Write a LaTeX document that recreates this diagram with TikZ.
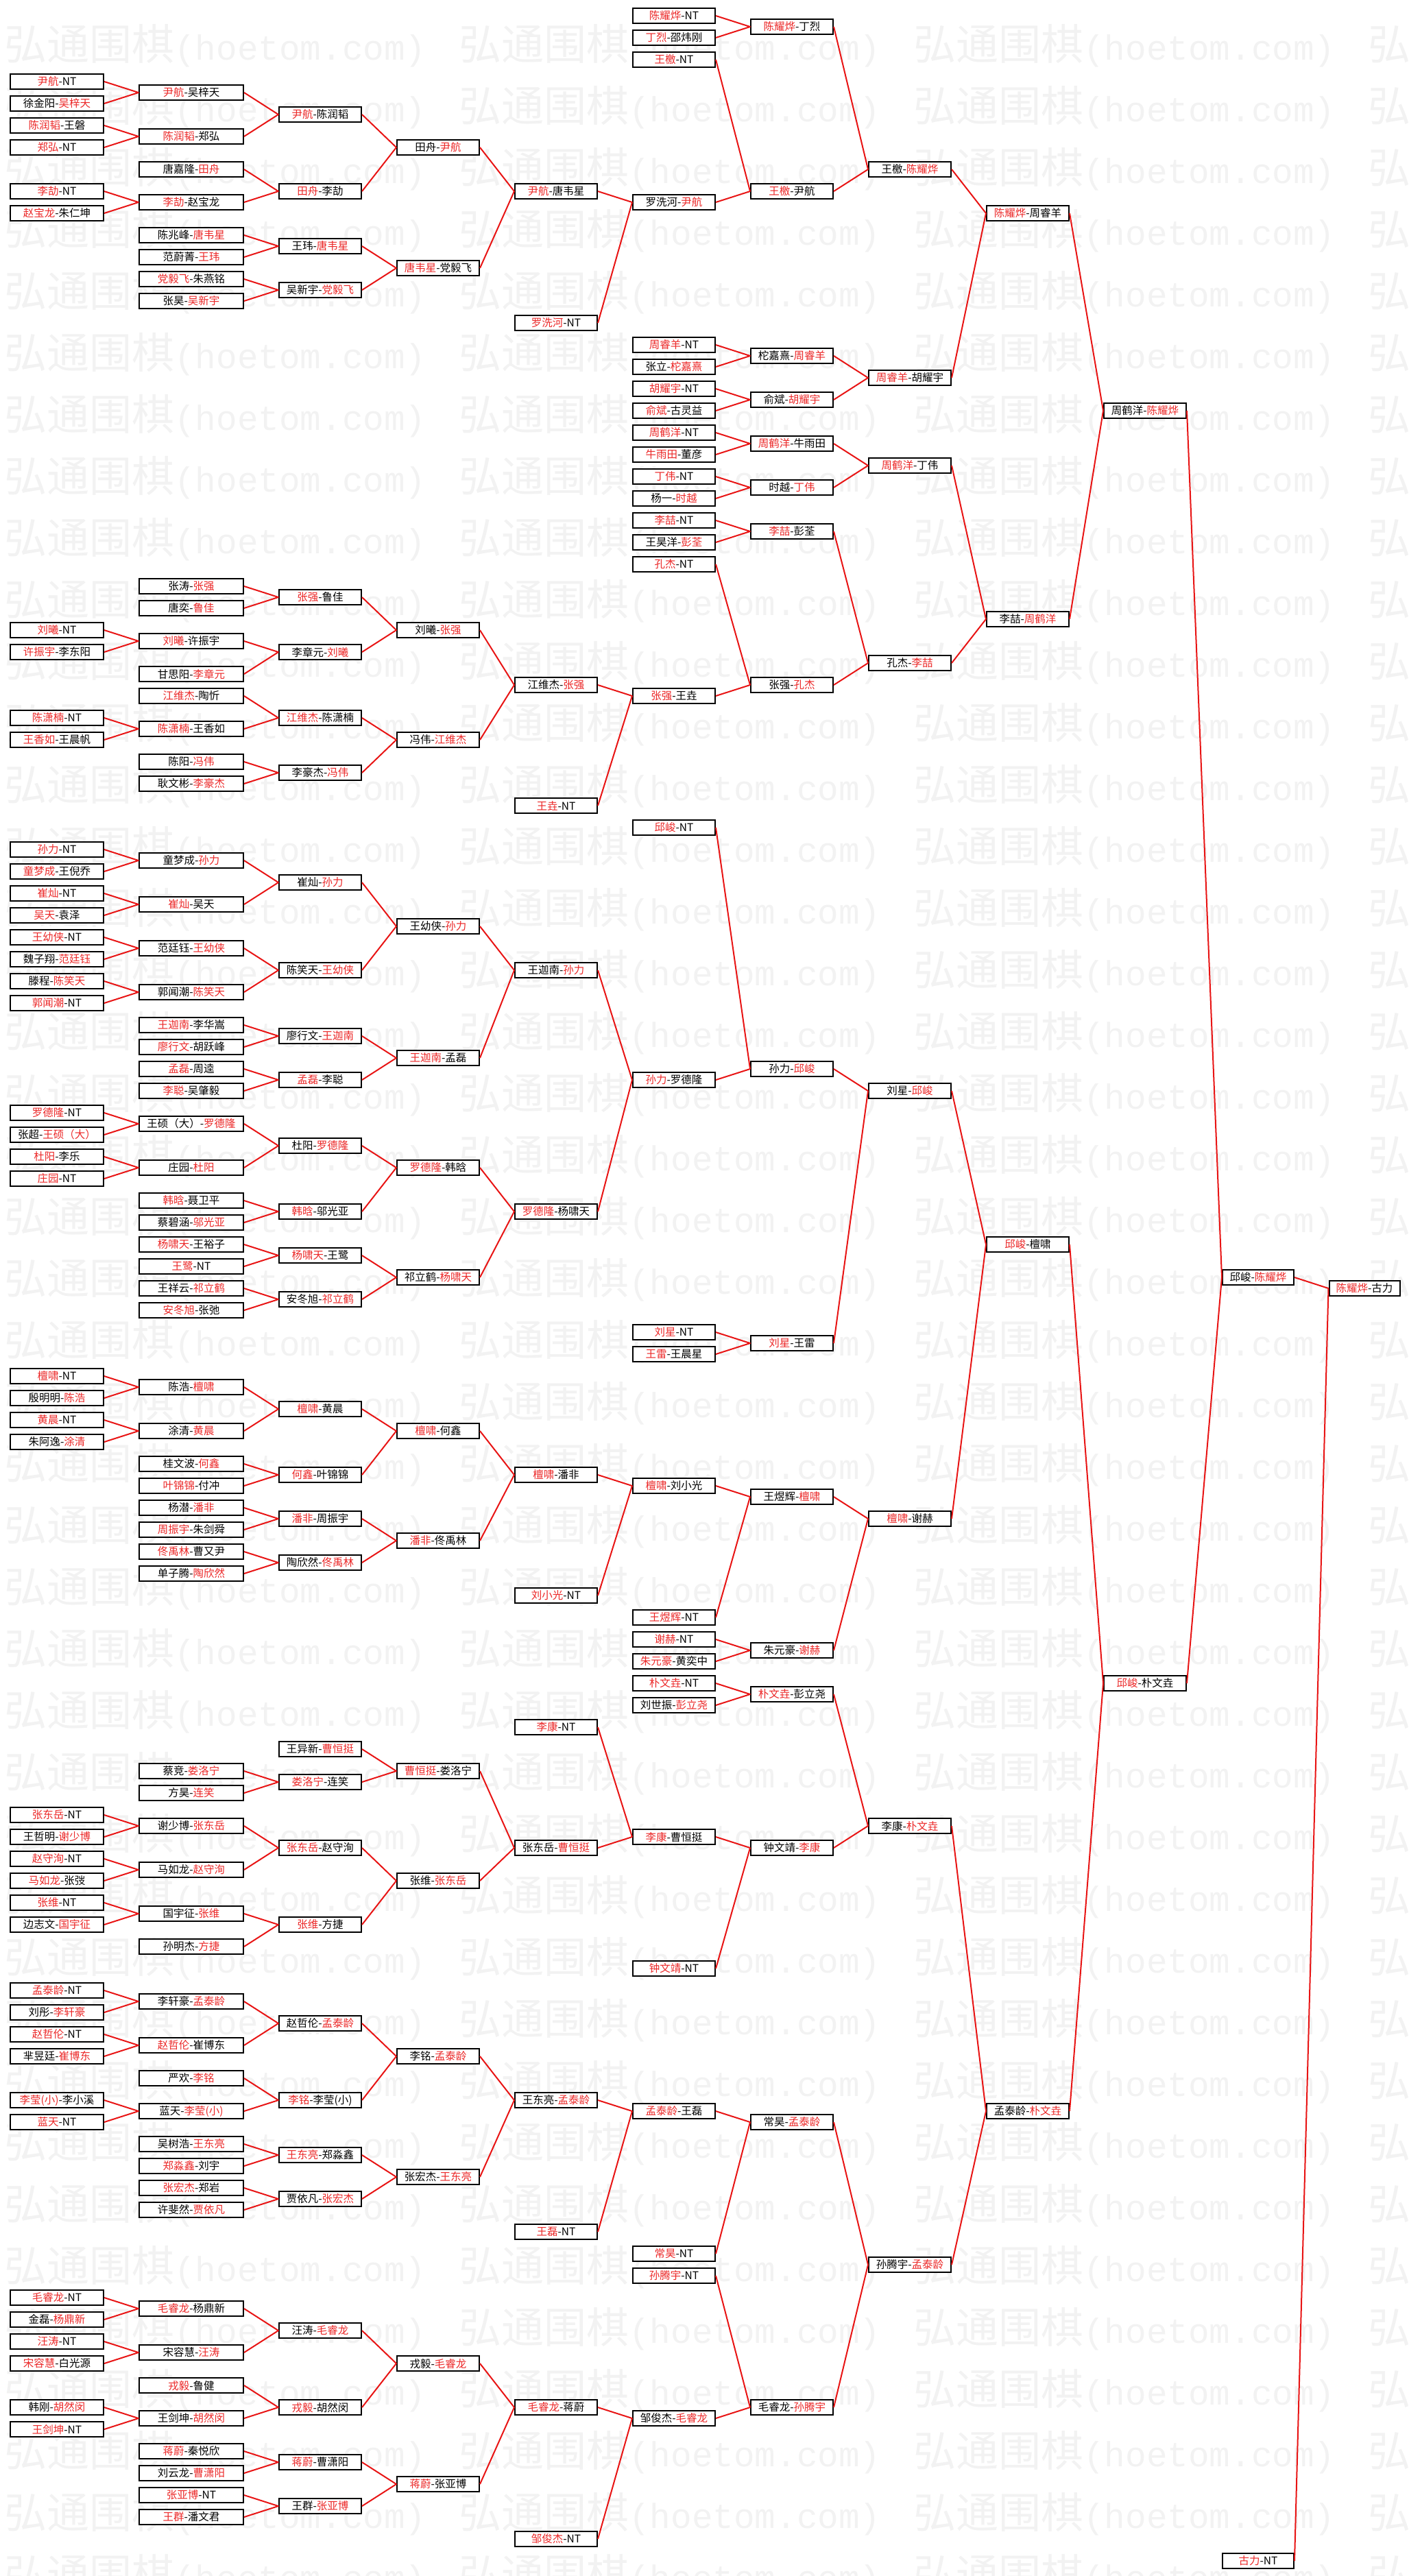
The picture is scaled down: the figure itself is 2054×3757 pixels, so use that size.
\documentclass[tikz,border=0pt]{standalone}
\usepackage{fontspec}
\setmainfont{Noto Sans CJK SC}
\newfontfamily\monofont{Liberation Mono}
\definecolor{rosso}{RGB}{232,20,20}
\definecolor{vinto}{RGB}{236,40,40}
\newcommand{\vinc}[1]{\textcolor{vinto}{#1}}
\tikzset{
  gara/.style={draw=black, line width=2pt, fill=white, minimum height=22pt, inner sep=0pt, font=\fontsize{15.5}{15.5}\selectfont},
  filo/.style={draw=rosso, line width=2pt, line join=round},
  filigrana/.style={anchor=west, text=black!5, inner sep=0pt}
}
\begin{document}
\begin{tikzpicture}[x=1pt,y=-1pt]
\useasboundingbox (0,0) rectangle (2054,3757);

%filigrana
\begin{scope}
\clip (0,0) rectangle (2054,3757);
\foreach \r in {0,...,41}
  \foreach \c in {0,...,3}
    \node[filigrana] (wm-\r-\c) at (6+663*\c,67+90*\r) {\fontsize{62}{62}\selectfont 弘通围棋{\monofont\fontsize{51}{51}\selectfont(hoetom.com)}};
\end{scope}

%turno 1
\foreach \k/\t in {7/{\vinc{尹航}-NT}, 9/{徐金阳-\vinc{吴梓天}}, 11/{\vinc{陈润韬}-王磐}, 13/{\vinc{郑弘}-NT}, 17/{\vinc{李劼}-NT}, 19/{\vinc{赵宝龙}-朱仁坤},
  57/{\vinc{刘曦}-NT}, 59/{\vinc{许振宇}-李东阳}, 65/{\vinc{陈潇楠}-NT}, 67/{\vinc{王香如}-王晨帆},
  77/{\vinc{孙力}-NT}, 79/{\vinc{童梦成}-王倪乔}, 81/{\vinc{崔灿}-NT}, 83/{\vinc{吴天}-袁泽}, 85/{\vinc{王幼侠}-NT}, 87/{魏子翔-\vinc{范廷钰}}, 89/{滕程-\vinc{陈笑天}}, 91/{\vinc{郭闻潮}-NT},
  101/{\vinc{罗德隆}-NT}, 103/{张超-\vinc{王硕（大）}}, 105/{\vinc{杜阳}-李乐}, 107/{\vinc{庄园}-NT},
  125/{\vinc{檀啸}-NT}, 127/{殷明明-\vinc{陈浩}}, 129/{\vinc{黄晨}-NT}, 131/{朱阿逸-\vinc{涂清}},
  165/{\vinc{张东岳}-NT}, 167/{王哲明-\vinc{谢少博}}, 169/{\vinc{赵守洵}-NT}, 171/{\vinc{马如龙}-张弢}, 173/{\vinc{张维}-NT}, 175/{边志文-\vinc{国宇征}},
  181/{\vinc{孟泰龄}-NT}, 183/{刘彤-\vinc{李轩豪}}, 185/{\vinc{赵哲伦}-NT}, 187/{芈昱廷-\vinc{崔博东}}, 191/{\vinc{李莹(小)}-李小溪}, 193/{\vinc{蓝天}-NT},
  209/{\vinc{毛睿龙}-NT}, 211/{金磊-\vinc{杨鼎新}}, 213/{\vinc{汪涛}-NT}, 215/{\vinc{宋容慧}-白光源}, 219/{韩刚-\vinc{胡然闵}}, 221/{\vinc{王剑坤}-NT}}
  \node[gara, minimum width=136pt] (c1k\k) at (83,16*\k+7) {\t};

%turno 2
\foreach \k/\t in {8/{\vinc{尹航}-吴梓天}, 12/{\vinc{陈润韬}-郑弘}, 15/{唐嘉隆-\vinc{田舟}}, 18/{\vinc{李劼}-赵宝龙}, 21/{陈兆峰-\vinc{唐韦星}}, 23/{范蔚菁-\vinc{王玮}}, 25/{\vinc{党毅飞}-朱燕铭}, 27/{张昊-\vinc{吴新宇}},
  53/{张涛-\vinc{张强}}, 55/{唐奕-\vinc{鲁佳}}, 58/{\vinc{刘曦}-许振宇}, 61/{甘思阳-\vinc{李章元}}, 63/{\vinc{江维杰}-陶忻}, 66/{\vinc{陈潇楠}-王香如}, 69/{陈阳-\vinc{冯伟}}, 71/{耿文彬-\vinc{李豪杰}},
  78/{童梦成-\vinc{孙力}}, 82/{\vinc{崔灿}-吴天}, 86/{范廷钰-\vinc{王幼侠}}, 90/{郭闻潮-\vinc{陈笑天}}, 93/{\vinc{王迦南}-李华嵩}, 95/{\vinc{廖行文}-胡跃峰}, 97/{\vinc{孟磊}-周逵}, 99/{\vinc{李聪}-吴肇毅},
  102/{王硕（大）-\vinc{罗德隆}}, 106/{庄园-\vinc{杜阳}}, 109/{\vinc{韩晗}-聂卫平}, 111/{蔡碧涵-\vinc{邬光亚}}, 113/{\vinc{杨啸天}-王裕子}, 115/{\vinc{王鹭}-NT}, 117/{王祥云-\vinc{祁立鹤}}, 119/{\vinc{安冬旭}-张弛},
  126/{陈浩-\vinc{檀啸}}, 130/{涂清-\vinc{黄晨}}, 133/{桂文波-\vinc{何鑫}}, 135/{\vinc{叶锦锦}-付冲}, 137/{杨潜-\vinc{潘非}}, 139/{\vinc{周振宇}-朱剑舜}, 141/{\vinc{佟禹林}-曹又尹}, 143/{单子腾-\vinc{陶欣然}},
  161/{蔡竞-\vinc{娄洛宁}}, 163/{方昊-\vinc{连笑}}, 166/{谢少博-\vinc{张东岳}}, 170/{马如龙-\vinc{赵守洵}}, 174/{国宇征-\vinc{张维}}, 177/{孙明杰-\vinc{方捷}},
  182/{李轩豪-\vinc{孟泰龄}}, 186/{\vinc{赵哲伦}-崔博东}, 189/{严欢-\vinc{李铭}}, 192/{蓝天-\vinc{李莹(小)}}, 195/{吴树浩-\vinc{王东亮}}, 197/{\vinc{郑淼鑫}-刘宇}, 199/{\vinc{张宏杰}-郑岩}, 201/{许斐然-\vinc{贾依凡}},
  210/{\vinc{毛睿龙}-杨鼎新}, 214/{宋容慧-\vinc{汪涛}}, 217/{\vinc{戎毅}-鲁健}, 220/{王剑坤-\vinc{胡然闵}}, 223/{\vinc{蒋蔚}-秦悦欣}, 225/{刘云龙-\vinc{曹潇阳}}, 227/{\vinc{张亚博}-NT}, 229/{\vinc{王群}-潘文君}}
  \node[gara, minimum width=152pt] (c2k\k) at (279,16*\k+7) {\t};

%turno 3
\foreach \k/\t in {10/{\vinc{尹航}-陈润韬}, 17/{\vinc{田舟}-李劼}, 22/{王玮-\vinc{唐韦星}}, 26/{吴新宇-\vinc{党毅飞}},
  54/{\vinc{张强}-鲁佳}, 59/{李章元-\vinc{刘曦}}, 65/{\vinc{江维杰}-陈潇楠}, 70/{李豪杰-\vinc{冯伟}},
  80/{崔灿-\vinc{孙力}}, 88/{陈笑天-\vinc{王幼侠}}, 94/{廖行文-\vinc{王迦南}}, 98/{\vinc{孟磊}-李聪},
  104/{杜阳-\vinc{罗德隆}}, 110/{\vinc{韩晗}-邬光亚}, 114/{\vinc{杨啸天}-王鹭}, 118/{安冬旭-\vinc{祁立鹤}},
  128/{\vinc{檀啸}-黄晨}, 134/{\vinc{何鑫}-叶锦锦}, 138/{\vinc{潘非}-周振宇}, 142/{陶欣然-\vinc{佟禹林}},
  159/{王异新-\vinc{曹恒挺}}, 162/{\vinc{娄洛宁}-连笑}, 168/{\vinc{张东岳}-赵守洵}, 175/{\vinc{张维}-方捷},
  184/{赵哲伦-\vinc{孟泰龄}}, 191/{\vinc{李铭}-李莹(小)}, 196/{\vinc{王东亮}-郑淼鑫}, 200/{贾依凡-\vinc{张宏杰}},
  212/{汪涛-\vinc{毛睿龙}}, 219/{\vinc{戎毅}-胡然闵}, 224/{\vinc{蒋蔚}-曹潇阳}, 228/{王群-\vinc{张亚博}}}
  \node[gara, minimum width=120pt] (c3k\k) at (467,16*\k+7) {\t};

%turno 4
\foreach \k/\t in {13/{田舟-\vinc{尹航}}, 24/{\vinc{唐韦星}-党毅飞}, 57/{刘曦-\vinc{张强}}, 67/{冯伟-\vinc{江维杰}},
  84/{王幼侠-\vinc{孙力}}, 96/{\vinc{王迦南}-孟磊}, 106/{\vinc{罗德隆}-韩晗}, 116/{祁立鹤-\vinc{杨啸天}},
  130/{\vinc{檀啸}-何鑫}, 140/{\vinc{潘非}-佟禹林}, 161/{\vinc{曹恒挺}-娄洛宁}, 171/{张维-\vinc{张东岳}},
  187/{李铭-\vinc{孟泰龄}}, 198/{张宏杰-\vinc{王东亮}}, 215/{戎毅-\vinc{毛睿龙}}, 226/{\vinc{蒋蔚}-张亚博}}
  \node[gara, minimum width=120pt] (c4k\k) at (639,16*\k+7) {\t};

%turno 5
\foreach \k/\t in {17/{\vinc{尹航}-唐韦星}, 29/{\vinc{罗洗河}-NT}, 62/{江维杰-\vinc{张强}}, 73/{\vinc{王垚}-NT},
  88/{王迦南-\vinc{孙力}}, 110/{\vinc{罗德隆}-杨啸天}, 134/{\vinc{檀啸}-潘非}, 145/{\vinc{刘小光}-NT},
  157/{\vinc{李康}-NT}, 168/{张东岳-\vinc{曹恒挺}}, 191/{王东亮-\vinc{孟泰龄}}, 203/{\vinc{王磊}-NT},
  219/{\vinc{毛睿龙}-蒋蔚}, 231/{\vinc{邹俊杰}-NT}}
  \node[gara, minimum width=120pt] (c5k\k) at (811,16*\k+7) {\t};

%turno 6
\foreach \k/\t in {1/{\vinc{陈耀烨}-NT}, 3/{\vinc{丁烈}-邵炜刚}, 5/{\vinc{王檄}-NT}, 18/{罗洗河-\vinc{尹航}},
  31/{\vinc{周睿羊}-NT}, 33/{张立-\vinc{柁嘉熹}}, 35/{\vinc{胡耀宇}-NT}, 37/{\vinc{俞斌}-古灵益}, 39/{\vinc{周鹤洋}-NT}, 41/{\vinc{牛雨田}-董彦},
  43/{\vinc{丁伟}-NT}, 45/{杨一-\vinc{时越}}, 47/{\vinc{李喆}-NT}, 49/{王昊洋-\vinc{彭荃}}, 51/{\vinc{孔杰}-NT}, 63/{\vinc{张强}-王垚},
  75/{\vinc{邱峻}-NT}, 98/{\vinc{孙力}-罗德隆}, 121/{\vinc{刘星}-NT}, 123/{\vinc{王雷}-王晨星}, 135/{\vinc{檀啸}-刘小光},
  147/{\vinc{王煜辉}-NT}, 149/{\vinc{谢赫}-NT}, 151/{\vinc{朱元豪}-黄奕中}, 153/{\vinc{朴文垚}-NT}, 155/{刘世振-\vinc{彭立尧}},
  167/{\vinc{李康}-曹恒挺}, 179/{\vinc{钟文靖}-NT}, 192/{\vinc{孟泰龄}-王磊}, 205/{\vinc{常昊}-NT}, 207/{\vinc{孙腾宇}-NT}, 220/{邹俊杰-\vinc{毛睿龙}}}
  \node[gara, minimum width=120pt] (c6k\k) at (983,16*\k+7) {\t};

%turno 7
\foreach \k/\t in {2/{\vinc{陈耀烨}-丁烈}, 17/{\vinc{王檄}-尹航}, 32/{柁嘉熹-\vinc{周睿羊}}, 36/{俞斌-\vinc{胡耀宇}},
  40/{\vinc{周鹤洋}-牛雨田}, 44/{时越-\vinc{丁伟}}, 48/{\vinc{李喆}-彭荃}, 62/{张强-\vinc{孔杰}},
  97/{孙力-\vinc{邱峻}}, 122/{\vinc{刘星}-王雷}, 136/{王煜辉-\vinc{檀啸}}, 150/{朱元豪-\vinc{谢赫}},
  154/{\vinc{朴文垚}-彭立尧}, 168/{钟文靖-\vinc{李康}}, 193/{常昊-\vinc{孟泰龄}}, 219/{毛睿龙-\vinc{孙腾宇}}}
  \node[gara, minimum width=120pt] (c7k\k) at (1155,16*\k+7) {\t};

%turno 8
\foreach \k/\t in {15/{王檄-\vinc{陈耀烨}}, 34/{\vinc{周睿羊}-胡耀宇}, 42/{\vinc{周鹤洋}-丁伟}, 60/{孔杰-\vinc{李喆}},
  99/{刘星-\vinc{邱峻}}, 138/{\vinc{檀啸}-谢赫}, 166/{李康-\vinc{朴文垚}}, 206/{孙腾宇-\vinc{孟泰龄}}}
  \node[gara, minimum width=120pt] (c8k\k) at (1327,16*\k+7) {\t};

%turno 9 e 10
\foreach \k/\t in {19/{\vinc{陈耀烨}-周睿羊}, 56/{李喆-\vinc{周鹤洋}}, 113/{\vinc{邱峻}-檀啸}, 192/{孟泰龄-\vinc{朴文垚}}}
  \node[gara, minimum width=120pt] (c9k\k) at (1499,16*\k+7) {\t};
\foreach \k/\t in {37/{周鹤洋-\vinc{陈耀烨}}, 153/{\vinc{邱峻}-朴文垚}}
  \node[gara, minimum width=120pt] (c10k\k) at (1670,16*\k+7) {\t};

%finale
\node[gara, minimum width=104pt] (c11k116) at (1835,16*116+7) {邱峻-\vinc{陈耀烨}};
\node[gara, minimum width=104pt] (c11k233) at (1835,16*233+7) {\vinc{古力}-NT};
\node[gara, minimum width=103pt] (c12k117) at (1990,16*117+7) {\vinc{陈耀烨}-古力};

%collegamenti
\foreach \p/\a/\b in {c2k8/c1k7/c1k9, c2k12/c1k11/c1k13, c2k18/c1k17/c1k19, c2k58/c1k57/c1k59, c2k66/c1k65/c1k67,
  c2k78/c1k77/c1k79, c2k82/c1k81/c1k83, c2k86/c1k85/c1k87, c2k90/c1k89/c1k91, c2k102/c1k101/c1k103, c2k106/c1k105/c1k107,
  c2k126/c1k125/c1k127, c2k130/c1k129/c1k131, c2k166/c1k165/c1k167, c2k170/c1k169/c1k171, c2k174/c1k173/c1k175,
  c2k182/c1k181/c1k183, c2k186/c1k185/c1k187, c2k192/c1k191/c1k193, c2k210/c1k209/c1k211, c2k214/c1k213/c1k215, c2k220/c1k219/c1k221,
  c3k10/c2k8/c2k12, c3k17/c2k15/c2k18, c3k22/c2k21/c2k23, c3k26/c2k25/c2k27, c3k54/c2k53/c2k55, c3k59/c2k58/c2k61,
  c3k65/c2k63/c2k66, c3k70/c2k69/c2k71, c3k80/c2k78/c2k82, c3k88/c2k86/c2k90, c3k94/c2k93/c2k95, c3k98/c2k97/c2k99,
  c3k104/c2k102/c2k106, c3k110/c2k109/c2k111, c3k114/c2k113/c2k115, c3k118/c2k117/c2k119, c3k128/c2k126/c2k130,
  c3k134/c2k133/c2k135, c3k138/c2k137/c2k139, c3k142/c2k141/c2k143, c3k162/c2k161/c2k163, c3k168/c2k166/c2k170,
  c3k175/c2k174/c2k177, c3k184/c2k182/c2k186, c3k191/c2k189/c2k192, c3k196/c2k195/c2k197, c3k200/c2k199/c2k201,
  c3k212/c2k210/c2k214, c3k219/c2k217/c2k220, c3k224/c2k223/c2k225, c3k228/c2k227/c2k229,
  c4k13/c3k10/c3k17, c4k24/c3k22/c3k26, c4k57/c3k54/c3k59, c4k67/c3k65/c3k70, c4k84/c3k80/c3k88, c4k96/c3k94/c3k98,
  c4k106/c3k104/c3k110, c4k116/c3k114/c3k118, c4k130/c3k128/c3k134, c4k140/c3k138/c3k142, c4k161/c3k159/c3k162,
  c4k171/c3k168/c3k175, c4k187/c3k184/c3k191, c4k198/c3k196/c3k200, c4k215/c3k212/c3k219, c4k226/c3k224/c3k228,
  c5k17/c4k13/c4k24, c5k62/c4k57/c4k67, c5k88/c4k84/c4k96, c5k110/c4k106/c4k116, c5k134/c4k130/c4k140,
  c5k168/c4k161/c4k171, c5k191/c4k187/c4k198, c5k219/c4k215/c4k226,
  c6k18/c5k17/c5k29, c6k63/c5k62/c5k73, c6k98/c5k88/c5k110, c6k135/c5k134/c5k145, c6k167/c5k157/c5k168,
  c6k192/c5k191/c5k203, c6k220/c5k219/c5k231,
  c7k2/c6k1/c6k3, c7k17/c6k5/c6k18, c7k32/c6k31/c6k33, c7k36/c6k35/c6k37, c7k40/c6k39/c6k41, c7k44/c6k43/c6k45,
  c7k48/c6k47/c6k49, c7k62/c6k51/c6k63, c7k97/c6k75/c6k98, c7k122/c6k121/c6k123, c7k136/c6k135/c6k147,
  c7k150/c6k149/c6k151, c7k154/c6k153/c6k155, c7k168/c6k167/c6k179, c7k193/c6k192/c6k205, c7k219/c6k207/c6k220,
  c8k15/c7k2/c7k17, c8k34/c7k32/c7k36, c8k42/c7k40/c7k44, c8k60/c7k48/c7k62, c8k99/c7k97/c7k122,
  c8k138/c7k136/c7k150, c8k166/c7k154/c7k168, c8k206/c7k193/c7k219,
  c9k19/c8k15/c8k34, c9k56/c8k42/c8k60, c9k113/c8k99/c8k138, c9k192/c8k166/c8k206,
  c10k37/c9k19/c9k56, c10k153/c9k113/c9k192, c11k116/c10k37/c10k153, c12k117/c11k116/c11k233}
  \draw[filo] (\a.east) -- (\p.west) -- (\b.east);
\end{tikzpicture}
\end{document}
